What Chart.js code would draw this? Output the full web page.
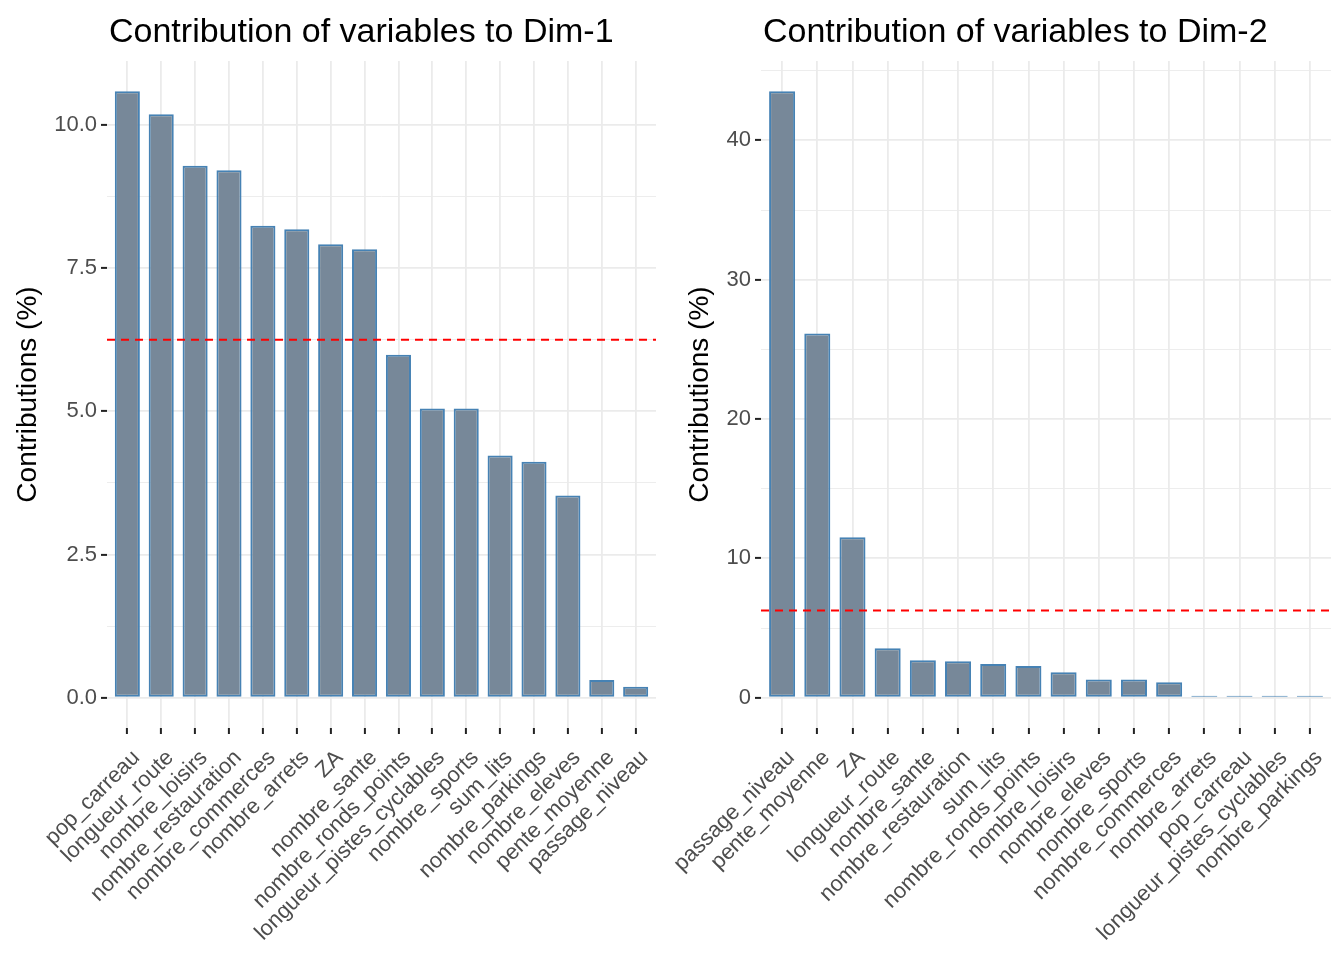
<!DOCTYPE html>
<html>
<head>
<meta charset="utf-8">
<script src="https://cdn.jsdelivr.net/npm/chart.js@4.4.1/dist/chart.umd.min.js"></script>
<style>
  body { margin: 0; background: #fff; }
  #wrap { position: relative; width: 1344px; height: 960px; }
  canvas { position: absolute; top: 0; }
</style>
</head>
<body>
<div id="wrap">
  <canvas id="dim1" width="672" height="960" style="left:0"></canvas>
  <canvas id="dim2" width="704" height="960" style="left:640px"></canvas>
</div>
<script>
// contributions (%), already sorted
var dim1Labels = ['pop_carreau', 'longueur_route', 'nombre_loisirs', 'nombre_restauration', 'nombre_commerces',
    'nombre_arrets', 'ZA', 'nombre_sante', 'nombre_ronds_points', 'longueur_pistes_cyclables', 'nombre_sports',
    'sum_lits', 'nombre_parkings', 'nombre_eleves', 'pente_moyenne', 'passage_niveau'];
var dim1Values = [10.59, 10.19, 9.29, 9.21, 8.24, 8.18, 7.92, 7.83, 5.99, 5.05, 5.05, 4.23, 4.12, 3.53, 0.31, 0.19];

var dim2Labels = ['passage_niveau', 'pente_moyenne', 'ZA', 'longueur_route', 'nombre_sante', 'nombre_restauration',
    'sum_lits', 'nombre_ronds_points', 'nombre_loisirs', 'nombre_eleves', 'nombre_sports', 'nombre_commerces',
    'nombre_arrets', 'pop_carreau', 'longueur_pistes_cyclables', 'nombre_parkings'];
var dim2Values = [43.52, 26.13, 11.51, 3.54, 2.68, 2.61, 2.42, 2.27, 1.82, 1.31, 1.31, 1.10, 0.10, 0.04, 0.02, 0.01];

var dim1Ticks = [0, 2.5, 5, 7.5, 10];
var dim1TickLabels = ['0.0', '2.5', '5.0', '7.5', '10.0'];
var dim1Minor = [1.25, 3.75, 6.25, 8.75];

var dim2Ticks = [0, 10, 20, 30, 40];
var dim2TickLabels = ['0', '10', '20', '30', '40'];
var dim2Minor = [5, 15, 25, 35, 45];

// expected average contribution (100 / 16 variables)
var expectedLine = 6.25;

var FONT = '"Liberation Sans", Arial, sans-serif';

function makeChart(id, title, labels, values, ticks, tickLabels, minor, yWidth, titlePad, padRight) {
    var top = Math.max.apply(null, values);
    var allTicks = ticks.concat(minor).sort(function (a, b) { return a - b; });
    var isMajor = function (v) { return ticks.indexOf(v) !== -1; };

    var titlePlugin = {
        id: 'panelTitle',
        afterDraw: function (chart) {
            var c = chart.ctx;
            c.save();
            c.font = '34px ' + FONT;
            c.fillStyle = '#000';
            c.textBaseline = 'alphabetic';
            c.textAlign = 'left';
            c.fillText(title, chart.chartArea.left + 2, 42);
            c.restore();
        }
    };
    var refLine = {
        id: 'refLine',
        afterDatasetsDraw: function (chart) {
            var c = chart.ctx, a = chart.chartArea;
            var y = chart.scales.y.getPixelForValue(expectedLine);
            c.save();
            c.strokeStyle = '#FF0000';
            c.lineWidth = 2;
            c.setLineDash([8, 6]);
            c.beginPath();
            c.moveTo(a.left, y);
            c.lineTo(a.right, y);
            c.stroke();
            c.restore();
        }
    };

    return new Chart(document.getElementById(id), {
        type: 'bar',
        data: {
            datasets: [{
                data: values.map(function (v, i) { return { x: i, y: v }; }),
                backgroundColor: '#778899',
                borderColor: '#4682B4',
                borderWidth: 2,
                borderSkipped: false,
                barPercentage: 0.74,
                categoryPercentage: 1,
                minBarLength: 2
            }]
        },
        options: {
            responsive: false,
            animation: false,
            layout: { padding: { top: 61, right: padRight, left: 0, bottom: 0 } },
            plugins: { legend: { display: false }, tooltip: { enabled: false }, title: { display: false } },
            scales: {
                x: {
                    type: 'linear',
                    min: -0.6,
                    max: labels.length - 1 + 0.6,
                    offset: false,
                    afterBuildTicks: function (s) {
                        s.ticks = labels.map(function (l, i) { return { value: i }; });
                    },
                    afterFit: function (s) {
                        s.height = 232;
                        s.paddingLeft = 0;
                        s.paddingRight = 0;
                    },
                    border: { display: false },
                    grid: { offset: false, color: '#EBEBEB', lineWidth: 1.8, tickColor: '#222222', tickLength: 6, tickWidth: 2 },
                    ticks: {
                        autoSkip: false,
                        minRotation: 45,
                        maxRotation: 45,
                        padding: 11,
                        labelOffset: 9,
                        color: '#4D4D4D',
                        font: { family: FONT, size: 22 },
                        callback: function (v) { return labels[v]; }
                    }
                },
                y: {
                    min: -0.05 * top,
                    max: top * 1.05,
                    afterBuildTicks: function (s) {
                        s.ticks = allTicks.map(function (v) { return { value: v }; });
                    },
                    afterFit: function (s) { s.width = yWidth; },
                    border: { display: false },
                    grid: {
                        color: '#EBEBEB',
                        lineWidth: function (c) { return c.tick && isMajor(c.tick.value) ? 1.8 : 0.9; },
                        tickColor: function (c) { return c.tick && isMajor(c.tick.value) ? '#222222' : 'rgba(0,0,0,0)'; },
                        tickLength: 6,
                        tickWidth: 2
                    },
                    ticks: {
                        padding: 4,
                        color: '#4D4D4D',
                        font: { family: FONT, size: 22 },
                        callback: function (v) {
                            var k = ticks.indexOf(v);
                            return k === -1 ? '' : tickLabels[k];
                        }
                    },
                    title: {
                        display: true,
                        text: 'Contributions (%)',
                        color: '#000',
                        font: { family: FONT, size: 28 },
                        padding: { top: titlePad, bottom: 0 }
                    }
                }
            }
        },
        plugins: [titlePlugin, refLine]
    });
}

makeChart('dim1', 'Contribution of variables to Dim-1', dim1Labels, dim1Values,
    dim1Ticks, dim1TickLabels, dim1Minor, 107, 11, 16);
makeChart('dim2', 'Contribution of variables to Dim-2', dim2Labels, dim2Values,
    dim2Ticks, dim2TickLabels, dim2Minor, 121, 43, 13);
</script>
</body>
</html>
